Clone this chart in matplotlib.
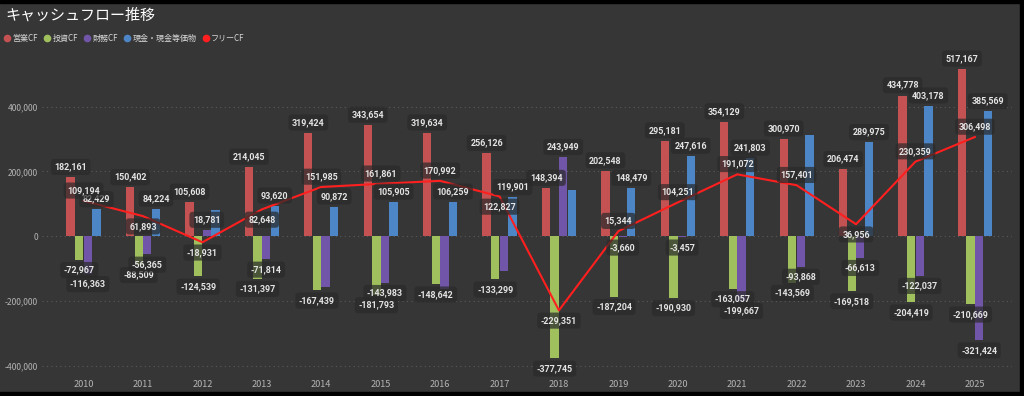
import numpy as np
import matplotlib.pyplot as plt
from matplotlib.lines import Line2D
from matplotlib.patches import Rectangle
from matplotlib.ticker import FuncFormatter

plt.rcParams['font.family'] = ['Noto Sans CJK JP', 'DejaVu Sans']

# data
years = list(range(2010, 2026))
operating_cf = [182161, 150402, 105608, 214045, 319424, 343654, 319634, 256126,
                148394, 202548, 295181, 354129, 300970, 206474, 434778, 517167]
investing_cf = [-72967, -88509, -124539, -131397, -167439, -181793, -148642, -133299,
                -377745, -187204, -190930, -163057, -143569, -169518, -204419, -210669]
financing_cf = [-116363, -56365, 18781, -71814, -157000, -143983, -164000, -107000,
                243949, -3660, -3457, -199667, -93868, -66613, -122037, -321424]
cash = [82429, 84224, 82000, 93620, 90872, 105905, 106259, 119901,
        142000, 148479, 247616, 241803, 313000, 289975, 403178, 385569]
free_cf = [a + b for a, b in zip(operating_cf, investing_cf)]

series_names = ['営業CF', '投資CF', '財務CF', '現金・現金等価物', 'フリーCF']
colors = ['#c55252', '#9fc05c', '#7155a8', '#4d86c7', '#ff1f1f']

# labels that the original hides because they overlap
hidden = {(2, 2014), (2, 2016), (2, 2017), (3, 2012), (3, 2018), (3, 2022)}
# free CF labels placed under the line point
free_below = {2011, 2012, 2013, 2017, 2018, 2023}

bg = '#363636'
fig = plt.figure(figsize=(10.24, 3.96), dpi=100, facecolor=bg)
ax = fig.add_axes([0.041, 0.0606, 0.947, 0.8005])
ax.set_facecolor(bg)

# black frame strips like the screenshot
fig.patches.append(Rectangle((0, 0.992), 1, 0.008, transform=fig.transFigure, color='black', zorder=10))
fig.patches.append(Rectangle((0, 0), 1, 0.01, transform=fig.transFigure, color='black', zorder=10))
fig.patches.append(Rectangle((0.996, 0), 0.004, 1, transform=fig.transFigure, color='black', zorder=10))

x = np.array(years, dtype=float)
w = 0.14
offsets = [-1.5, -0.5, 0.5, 1.5]
bar_series = [operating_cf, investing_cf, financing_cf, cash]

box = dict(boxstyle='round,pad=0.4', facecolor='#2a2a2a', edgecolor='none', alpha=0.72)
lab_kw = dict(fontsize=6.4, color='#e4e4e4', fontweight='bold', family='Roboto',
              ha='center', va='center', bbox=box, zorder=6)
dy = 7.4

for i, (vals, off) in enumerate(zip(bar_series, offsets)):
    xs = x + off * (w + 0.005)
    ax.bar(xs, vals, width=w, color=colors[i], zorder=3)
    for xi, yr, v in zip(xs, years, vals):
        if (i, yr) in hidden:
            continue
        ax.annotate(f'{v:,}', (xi, v), xytext=(0, dy if v >= 0 else -dy),
                    textcoords='offset points', **lab_kw)

ax.plot(x, free_cf, color=colors[4], lw=1.5, zorder=5)
for xi, yr, v in zip(x, years, free_cf):
    ax.annotate(f'{v:,}', (xi, v), xytext=(0, -dy if yr in free_below else dy),
                textcoords='offset points', **lab_kw)

ax.set_xlim(2009.3, 2025.62)
ax.set_ylim(-420000, 560000)
ax.set_yticks([-400000, -200000, 0, 200000, 400000])
ax.yaxis.set_major_formatter(FuncFormatter(lambda v, p: f'{int(v):,}'))
ax.set_xticks(years)
ax.tick_params(axis='both', length=0, colors='#b4b4b4', labelsize=6.6)
ax.tick_params(axis='y', labelsize=6.1, pad=3)
ax.tick_params(axis='x', pad=6)
ax.grid(axis='y', color='#5a5a5a', linestyle=(0, (1, 3)), linewidth=0.8, zorder=0)
for s in ax.spines.values():
    s.set_visible(False)

fig.text(0.005, 0.961, 'キャッシュフロー推移', fontsize=10.8, color='white', va='center', ha='left')

handles = [Line2D([], [], marker='o', linestyle='none', markersize=5.5,
                  markerfacecolor=c, markeredgecolor='none') for c in colors]
fig.legend(handles, series_names, loc='center left', bbox_to_anchor=(0.001, 0.904),
           ncol=5, frameon=False, fontsize=5.8, labelcolor='#d8d8d8',
           handlelength=0.7, handletextpad=0.3, columnspacing=0.8, borderaxespad=0)

fig.savefig('out.png', dpi=100, facecolor=bg)
